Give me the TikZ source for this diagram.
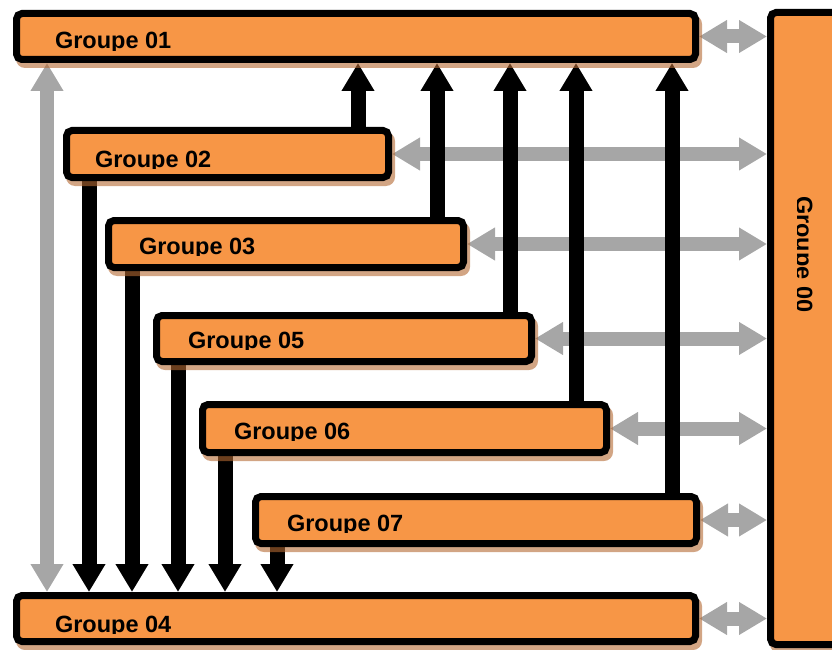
\documentclass[tikz,border=0pt]{standalone}
\usepackage{fontspec}
\setmainfont{Liberation Sans}
\usetikzlibrary{arrows.meta}
\definecolor{boxorange}{RGB}{247,150,70}
\definecolor{arrgray}{RGB}{166,166,166}
\definecolor{shadowtan}{RGB}{180,105,50}
\pgfdeclarelayer{bglayer}
\pgfdeclarelayer{shlayer}
\pgfsetlayers{bglayer,shlayer,main}
\begin{document}
\begin{tikzpicture}[x=1pt,y=-1pt,
  grp/.style={draw=black, line width=7pt, fill=boxorange, rounded corners=5.5pt,
    outer sep=3.5pt, inner sep=0pt, anchor=north west},
  shad/.style={fill=shadowtan, fill opacity=0.6, rounded corners=9pt},
  lbl/.style={font=\fontsize{23.5}{28}\selectfont\bfseries, inner sep=0pt, outer sep=0pt,
    anchor=base west, text=black},
  garr/.style={draw=arrgray, line width=14pt,
    {Triangle[length=28pt,width=31pt]}-{Triangle[length=28pt,width=31pt]}},
  barr/.style={draw=black, line width=15pt, -{Triangle[length=28pt,width=31pt]}},
]
\clip (0,0) rectangle (832,650);

% boxes
\node[grp, minimum width=679pt, minimum height=46pt] (g01) at (13,10) {};
\node[grp, minimum width=322pt, minimum height=47pt] (g02) at (63,127) {};
\node[grp, minimum width=355pt, minimum height=47pt] (g03) at (105,217) {};
\node[grp, minimum width=375pt, minimum height=46pt] (g05) at (153,312) {};
\node[grp, minimum width=404pt, minimum height=48pt] (g06) at (199,401) {};
\node[grp, minimum width=441pt, minimum height=47pt] (g07) at (252,493) {};
\node[grp, minimum width=679pt, minimum height=46pt] (g04) at (13,592) {};
\node[grp, minimum width=96pt, minimum height=632pt] (g00) at (767,9) {};

% shadows
\begin{pgfonlayer}{shlayer}
\foreach \n in {g01,g02,g03,g05,g06,g07,g04,g00}
  \fill[shad] ([shift={(3,5)}]\n.north west) rectangle ([shift={(3,5)}]\n.south east);
\end{pgfonlayer}

% column coordinates
\coordinate (cg) at (47,0);
\coordinate (u1) at (358,0);
\coordinate (u2) at (437,0);
\coordinate (u3) at (510,0);
\coordinate (u4) at (576,0);
\coordinate (u5) at (672,0);
\coordinate (d1) at (89,0);
\coordinate (d2) at (132,0);
\coordinate (d3) at (178,0);
\coordinate (d4) at (225,0);
\coordinate (d5) at (277,0);

\begin{pgfonlayer}{bglayer}
% gray arrows
\draw[garr] (g01.south -| cg) -- (g04.north -| cg);
\foreach \n in {g01,g02,g03,g05,g06,g07,g04}
  \draw[garr] (\n.east) -- (\n.east -| g00.west);
% black arrows up
\draw[barr] (g02.north -| u1) -- (g01.south -| u1);
\draw[barr] (g03.north -| u2) -- (g01.south -| u2);
\draw[barr] (g05.north -| u3) -- (g01.south -| u3);
\draw[barr] (g06.north -| u4) -- (g01.south -| u4);
\draw[barr] (g07.north -| u5) -- (g01.south -| u5);
% black arrows down
\draw[barr] (g02.south -| d1) -- (g04.north -| d1);
\draw[barr] (g03.south -| d2) -- (g04.north -| d2);
\draw[barr] (g05.south -| d3) -- (g04.north -| d3);
\draw[barr] (g06.south -| d4) -- (g04.north -| d4);
\draw[barr] (g07.south -| d5) -- (g04.north -| d5);
\end{pgfonlayer}

% labels (clipped just below the baseline)
\begin{scope}\clip (13,10) rectangle (699,50.5);
\node[lbl] (t01) at (55,49) {Groupe 01};\end{scope}
\begin{scope}\clip (63,127) rectangle (392,168.5);
\node[lbl] (t02) at (95,167) {Groupe 02};\end{scope}
\begin{scope}\clip (105,217) rectangle (467,255.5);
\node[lbl] (t03) at (139,254) {Groupe 03};\end{scope}
\begin{scope}\clip (153,312) rectangle (535,349.5);
\node[lbl] (t05) at (188,348) {Groupe 05};\end{scope}
\begin{scope}\clip (199,401) rectangle (610,440.5);
\node[lbl] (t06) at (234,439) {Groupe 06};\end{scope}
\begin{scope}\clip (252,493) rectangle (700,532.5);
\node[lbl] (t07) at (287,531) {Groupe 07};\end{scope}
\begin{scope}\clip (797.5,9) rectangle (832,648);
\node[lbl, rotate=-90] (t00) at (796,196) {Groupe 00};\end{scope}
\begin{scope}\clip (13,592) rectangle (699,633.5);
\node[lbl] (t04) at (55,632) {Groupe 04};\end{scope}
\end{tikzpicture}
\end{document}
